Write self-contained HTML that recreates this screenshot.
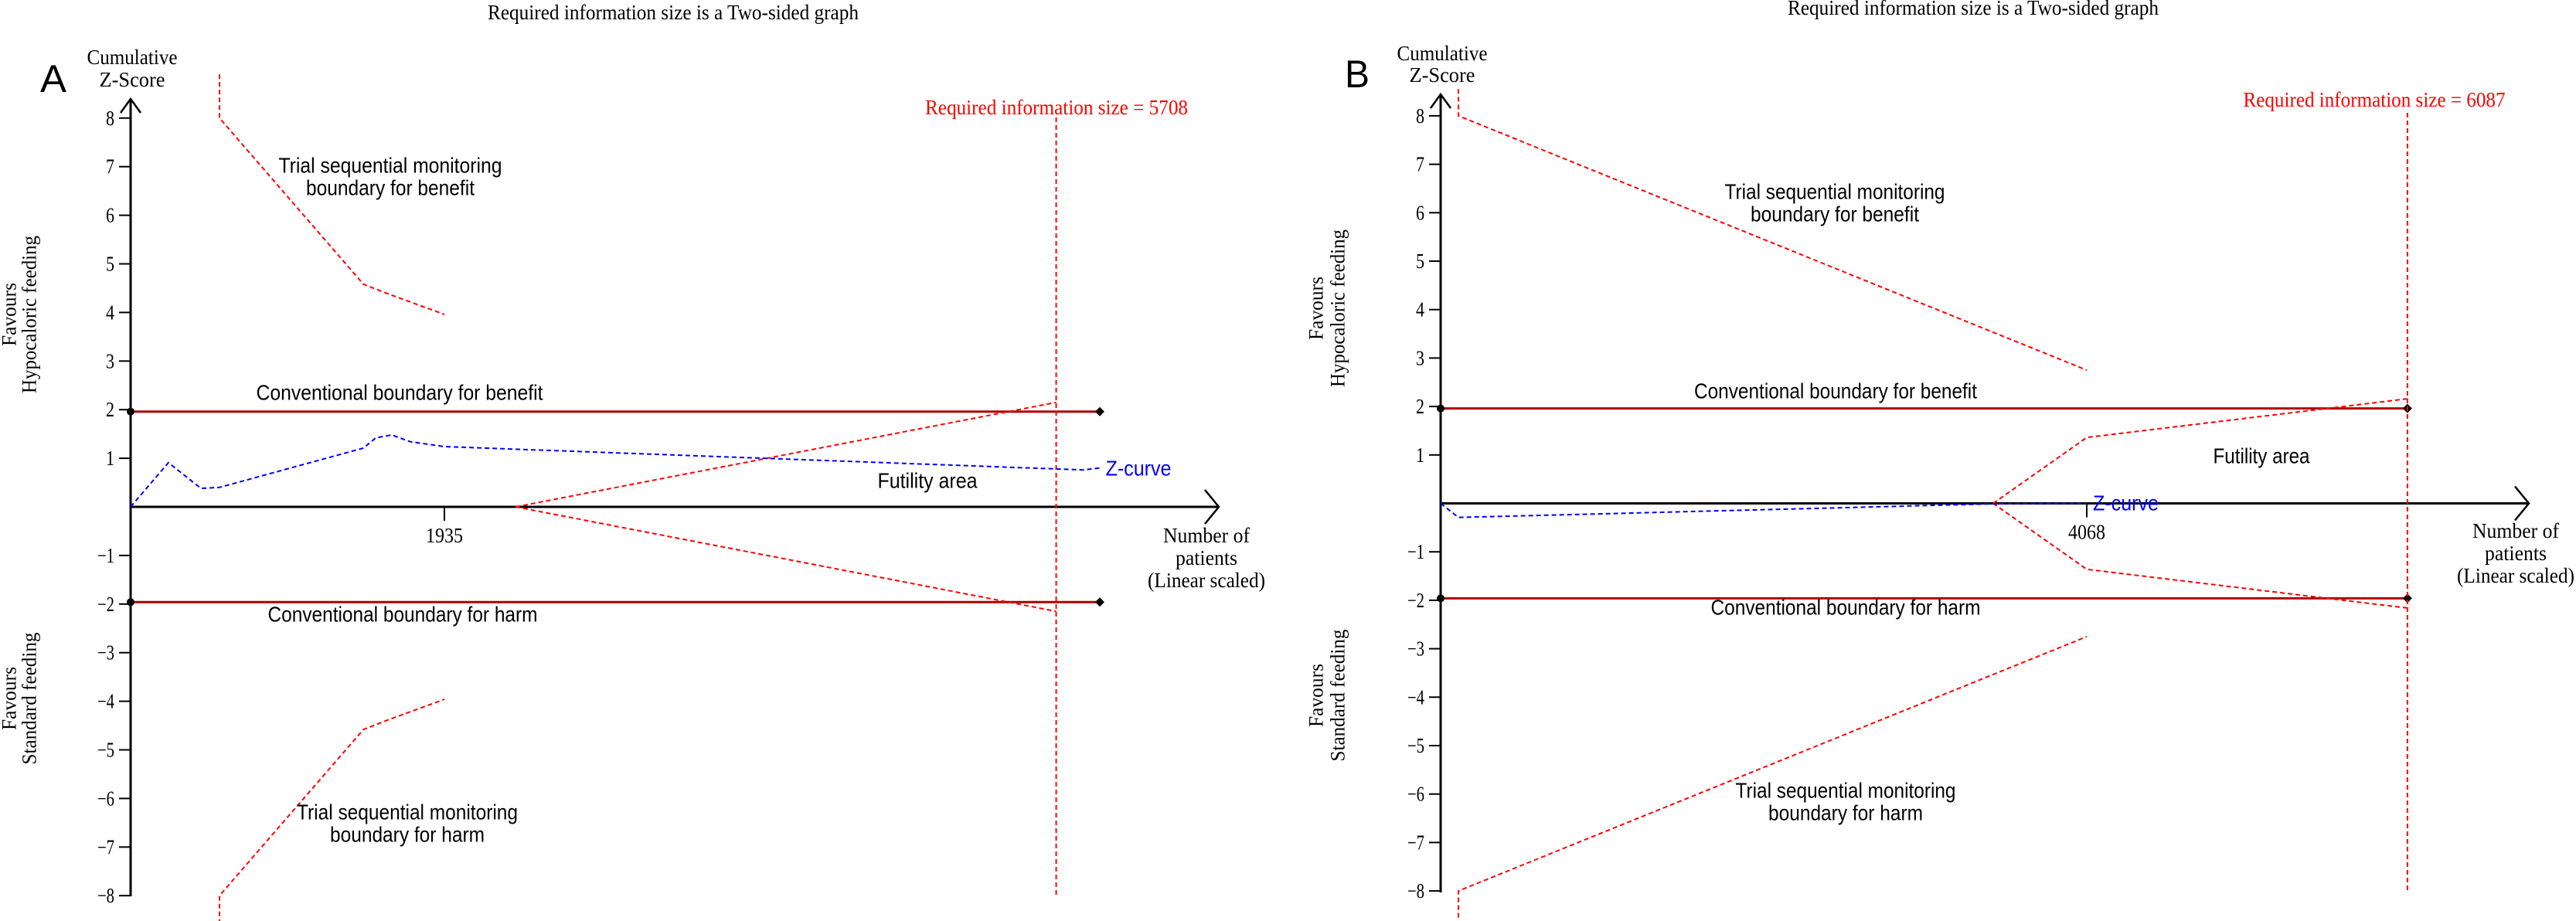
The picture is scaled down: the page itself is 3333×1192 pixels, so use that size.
<!DOCTYPE html>
<html><head><meta charset="utf-8"><style>
html,body{margin:0;padding:0;background:#fff;}
svg{display:block;}
.serif{font-family:"Liberation Serif",serif;}
.sans{font-family:"Liberation Sans",sans-serif;}
</style></head><body>
<svg id="chart" xmlns="http://www.w3.org/2000/svg" width="3333" height="1192" viewBox="0 0 3333 1192"></svg>
<script>
// ---- Panel A data ----
const aYTicks = [8,7,6,5,4,3,2,1,-1,-2,-3,-4,-5,-6,-7,-8];
const aBenefitN = [548,548,1436,1598,1935];
const aBenefitZ = [8.9,8,4.58,4.37,3.96];
const aFutilityN = [2374,5708];
const aFutilityZ = [0,2.15];
const aZcurveN = [0,233,434,548,1436,1512,1610,1725,1935,5875,5977];
const aZcurveZ = [0,0.91,0.38,0.40,1.21,1.42,1.48,1.34,1.24,0.76,0.80];
const aRIS = [5708];
const aConvEnd = [5977];
const aTickN = [1935];
// ---- Panel B data ----
const bYTicks = [8,7,6,5,4,3,2,1,-1,-2,-3,-4,-5,-6,-7,-8];
const bBenefitN = [112,112,4068];
const bBenefitZ = [8.55,8,2.75];
const bFutilityN = [3479,4068,6087];
const bFutilityZ = [0,1.36,2.16];
const bZcurveN = [0,112,3479,4068];
const bZcurveZ = [0,-0.29,-0.01,0];
const bRIS = [6087];
const bConvEnd = [6087];
const bTickN = [4068];

const svg = document.getElementById('chart');
const NS = 'http://www.w3.org/2000/svg';
function mk(tag, attrs, name, parent){
  const e = document.createElementNS(NS, tag);
  for (const k in attrs) e.setAttribute(k, attrs[k]);
  
  
  (parent||svg).appendChild(e);
  return e;
}
function txt(s, x, y, size, cls, fill, len, name, anchor, rot){
  const t = document.createElementNS(NS,'text');
  t.setAttribute('x', x); t.setAttribute('y', y);
  t.setAttribute('font-size', size);
  t.setAttribute('class', cls);
  t.setAttribute('fill', fill||'#000');
  t.setAttribute('text-anchor', anchor||'middle');
  t.setAttribute('dominant-baseline', 'central');
  if (len){ t.setAttribute('textLength', len); t.setAttribute('lengthAdjust','spacingAndGlyphs'); }
  if (rot) t.setAttribute('transform', rot);
  t.textContent = s;
  
  
  svg.appendChild(t);
  return t;
}

function panel(p){
  const X = n => p.x0 + n*p.kx;
  const Y = z => p.y0 - z*p.ky;
  const g = mk('g', {}, p.id+'-plot');
  const poly = (ns, zs, col, name, dash, w) => {
    const pts = ns.map((n,i)=>X(n).toFixed(1)+','+Y(zs[i]).toFixed(1)).join(' ');
    mk('polyline', {points:pts, fill:'none', stroke:col, 'stroke-width':w||2, 'stroke-dasharray':dash||'none'}, name, g);
  };
  [1.96,-1.96].forEach((z,i)=>{
    const nm = i===0?'conventional-boundary-benefit':'conventional-boundary-harm';
    mk('line',{x1:X(0),y1:Y(z),x2:X(p.convEnd[0]),y2:Y(z),stroke:'#b00000','stroke-width':3}, nm, g);
    mk('circle',{cx:X(0),cy:Y(z),r:5,fill:'#000'}, nm+'-start-marker', g);
    mk('path',{d:`M${X(p.convEnd[0])-6},${Y(z)} l6,-6 l6,6 l-6,6z`,fill:'#000'}, nm+'-end-marker', g);
  });
  mk('line',{x1:p.x0,y1:p.yTop,x2:p.x0,y2:p.yBot,stroke:'#000','stroke-width':3}, 'y-axis', g);
  mk('polyline',{points:`${p.x0-13},${p.yTop+18} ${p.x0},${p.yTop} ${p.x0+13},${p.yTop+18}`,fill:'none',stroke:'#000','stroke-width':2.5}, 'y-axis-arrow', g);
  mk('line',{x1:p.x0,y1:p.y0,x2:p.xEnd,y2:p.y0,stroke:'#000','stroke-width':3}, 'x-axis', g);
  mk('polyline',{points:`${p.xEnd-18},${p.y0-22} ${p.xEnd},${p.y0} ${p.xEnd-18},${p.y0+22}`,fill:'none',stroke:'#000','stroke-width':2.5}, 'x-axis-arrow', g);
  p.yTicks.forEach(v=>{
    mk('line',{x1:p.x0-15,y1:Y(v),x2:p.x0,y2:Y(v),stroke:'#000','stroke-width':2}, 'y-tick', g);
    const s = String(v).replace('-','\u2212');
    txt(s, p.x0-21, Y(v), 27, 'serif', '#000', v<0?22:11, 'y-tick-label', 'end');
  });
  p.tickN.forEach(n=>{
    mk('line',{x1:X(n),y1:p.y0,x2:X(n),y2:p.y0+18,stroke:'#000','stroke-width':2}, 'x-tick', g);
    txt(String(n), X(n), p.y0+37, 27, 'serif', '#000', 48, 'x-tick-label');
  });
  mk('line',{x1:X(p.ris[0]),y1:p.risTop,x2:X(p.ris[0]),y2:p.yBot0,stroke:'#ff0000','stroke-width':2,'stroke-dasharray':'6,4'}, 'required-information-size-line', g);
  poly(p.benN, p.benZ, '#ff0000', 'tsm-boundary-benefit', '6,4');
  poly(p.benN, p.benZ.map(z=>-z), '#ff0000', 'tsm-boundary-harm', '6,4');
  poly(p.futN, p.futZ, '#ff0000', 'futility-boundary-upper', '6,4');
  poly(p.futN, p.futZ.map(z=>-z), '#ff0000', 'futility-boundary-lower', '6,4');
  poly(p.zN, p.zZ, '#0000ff', 'z-curve', '6,4');
  return {X,Y};
}

panel({id:'panel-a', x0:169, y0:656, kx:0.2098, ky:62.9, yTop:128, yBot:1160, yBot0:1159, xEnd:1577, risTop:152,
  yTicks:aYTicks, benN:aBenefitN, benZ:aBenefitZ, futN:aFutilityN, futZ:aFutilityZ, zN:aZcurveN, zZ:aZcurveZ, ris:aRIS, convEnd:aConvEnd, tickN:aTickN});
panel({id:'panel-b', x0:1864, y0:651.5, kx:0.2055, ky:62.7, yTop:122, yBot:1155, yBot0:1153, xEnd:3272, risTop:146,
  yTicks:bYTicks, benN:bBenefitN, benZ:bBenefitZ, futN:bFutilityN, futZ:bFutilityZ, zN:bZcurveN, zZ:bZcurveZ, ris:bRIS, convEnd:bConvEnd, tickN:bTickN});

// ---- Panel A labels ----
txt('Required information size is a Two-sided graph', 871, 16, 27, 'serif', '#000', 480, 'panel-a-title');
txt('A', 69, 102, 50, 'sans', '#000', 34, 'panel-a-letter');
txt('Cumulative', 171, 74, 27, 'serif', '#000', 117, 'y-axis-title');
txt('Z-Score', 171, 103, 27, 'serif', '#000', 85, 'y-axis-title');
txt('Required information size = 5708', 1367, 139, 27, 'serif', '#ff0000', 340, 'ris-label');
txt('Trial sequential monitoring', 505, 214, 28, 'sans', '#000', 289, 'tsm-benefit-label');
txt('boundary for benefit', 505, 243, 28, 'sans', '#000', 218, 'tsm-benefit-label');
txt('Conventional boundary for benefit', 517, 508, 28, 'sans', '#000', 371, 'conventional-benefit-label');
txt('Futility area', 1200, 622, 28, 'sans', '#000', 129, 'futility-area-label');
txt('Z-curve', 1473, 606, 28, 'sans', '#0000ff', 85, 'z-curve-label');
txt('Number of', 1561, 693, 27, 'serif', '#000', 112, 'x-axis-title');
txt('patients', 1561, 722, 27, 'serif', '#000', 80, 'x-axis-title');
txt('(Linear scaled)', 1561, 751, 27, 'serif', '#000', 152, 'x-axis-title');
txt('Conventional boundary for harm', 521, 795, 28, 'sans', '#000', 349, 'conventional-harm-label');
txt('Trial sequential monitoring', 527, 1051, 28, 'sans', '#000', 286, 'tsm-harm-label');
txt('boundary for harm', 527, 1080, 28, 'sans', '#000', 200, 'tsm-harm-label');
txt('Favours', 12, 407, 26, 'serif', '#000', 82, 'favours-hypocaloric-label', 'middle', 'rotate(-90 12 407)');
txt('Hypocaloric feeding', 38, 407, 26, 'serif', '#000', 204, 'favours-hypocaloric-label', 'middle', 'rotate(-90 38 407)');
txt('Favours', 12, 904, 26, 'serif', '#000', 82, 'favours-standard-label', 'middle', 'rotate(-90 12 904)');
txt('Standard feeding', 38, 904, 26, 'serif', '#000', 171, 'favours-standard-label', 'middle', 'rotate(-90 38 904)');

// ---- Panel B labels ----
txt('Required information size is a Two-sided graph', 2553, 10, 27, 'serif', '#000', 480, 'panel-b-title');
txt('B', 1756, 96, 50, 'sans', '#000', 32, 'panel-b-letter');
txt('Cumulative', 1866, 69, 27, 'serif', '#000', 117, 'y-axis-title');
txt('Z-Score', 1866, 97, 27, 'serif', '#000', 85, 'y-axis-title');
txt('Required information size = 6087', 3072, 129, 27, 'serif', '#ff0000', 339, 'ris-label');
txt('Trial sequential monitoring', 2374, 248, 28, 'sans', '#000', 285, 'tsm-benefit-label');
txt('boundary for benefit', 2374, 277, 28, 'sans', '#000', 218, 'tsm-benefit-label');
txt('Conventional boundary for benefit', 2375, 506, 28, 'sans', '#000', 366, 'conventional-benefit-label');
txt('Futility area', 2926, 590, 28, 'sans', '#000', 125, 'futility-area-label');
txt('Z-curve', 2708, 651, 28, 'sans', '#0000ff', 85, 'z-curve-label', 'start');
txt('Number of', 3255, 687, 27, 'serif', '#000', 112, 'x-axis-title');
txt('patients', 3255, 716, 27, 'serif', '#000', 80, 'x-axis-title');
txt('(Linear scaled)', 3255, 745, 27, 'serif', '#000', 152, 'x-axis-title');
txt('Conventional boundary for harm', 2388, 786, 28, 'sans', '#000', 349, 'conventional-harm-label');
txt('Trial sequential monitoring', 2388, 1023, 28, 'sans', '#000', 285, 'tsm-harm-label');
txt('boundary for harm', 2388, 1052, 28, 'sans', '#000', 200, 'tsm-harm-label');
txt('Favours', 1703, 399, 26, 'serif', '#000', 82, 'favours-hypocaloric-label', 'middle', 'rotate(-90 1703 399)');
txt('Hypocaloric feeding', 1731, 399, 26, 'serif', '#000', 204, 'favours-hypocaloric-label', 'middle', 'rotate(-90 1731 399)');
txt('Favours', 1703, 900, 26, 'serif', '#000', 82, 'favours-standard-label', 'middle', 'rotate(-90 1703 900)');
txt('Standard feeding', 1731, 900, 26, 'serif', '#000', 171, 'favours-standard-label', 'middle', 'rotate(-90 1731 900)');
</script>
</body></html>
